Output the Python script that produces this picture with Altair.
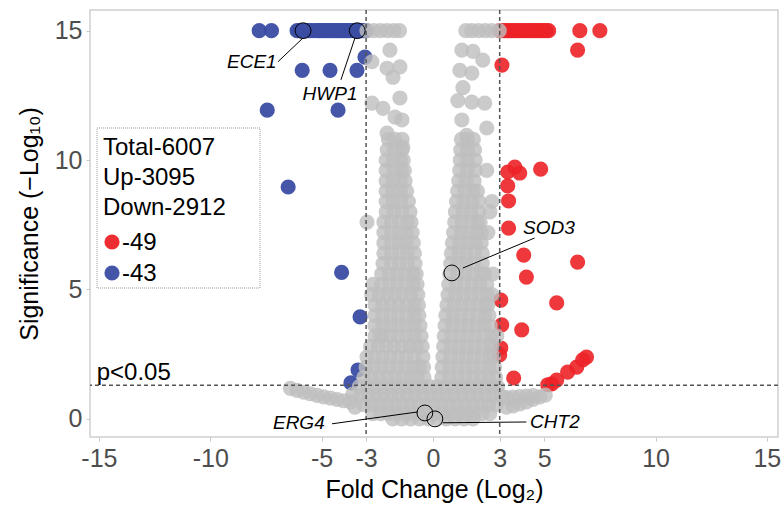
import altair as alt
import pandas as pd

# ---------------- data ----------------
# significant down-regulated genes (blue)
blue_x = [-7.8, -7.25, -6.1, -6.0, -5.83, -5.7, -5.6, -5.5, -5.35, -5.2, -5.1, -5.0,
          -4.9, -4.8, -4.7, -4.6, -4.5, -4.4, -4.3, -4.2, -4.1, -4.0, -3.9, -3.8,
          -3.7, -3.6, -3.5, -3.4, -3.3, -3.2, -3.1, -3.0,
          -3.05, -5.87, -4.62, -3.41, -7.44, -4.26, -6.5, -4.1, -3.27, -3.36, -3.68]
blue_y = [15] * 32 + [13.98, 13.47, 13.47, 13.47, 11.93, 11.93, 8.96, 5.66, 3.94, 1.89, 1.39]

# significant up-regulated genes (red)
red_x = [3.0, 3.11, 3.22, 3.33, 3.44, 3.55, 3.66, 3.77, 3.88, 3.99, 4.1, 4.21, 4.32,
         4.43, 4.54, 4.65, 4.76, 4.87, 4.98, 5.09, 5.2, 6.6, 7.5,
         3.1, 6.5, 3.68, 3.9, 3.36, 4.84, 3.36, 3.4, 3.4, 4.08, 6.5, 4.2, 3.05, 5.56,
         3.09, 3.99, 3.05, 3.0, 3.63, 6.9, 6.73, 6.46, 6.05, 5.56, 5.34, 5.16]
red_y = [15] * 23 + [13.67, 14.25, 9.73, 9.5, 9.54, 9.65, 9.0, 8.42, 7.37, 6.33, 6.06,
                     5.48, 4.59, 4.48, 3.63, 3.44, 2.74, 2.47, 1.58, 2.39, 2.28, 2.0,
                     1.81, 1.5, 1.35, 1.32]

# non-significant genes (grey), traced row by row from the cloud: (y, [x ...])
grey_rows = [
    (15.0, [-2.96, -2.65, -2.35, -2.05, -1.75, -1.5, 1.48, 1.75, 2.05, 2.35, 2.65, 2.98]),
    (10.8, [-2.0, -1.7, -1.38, 1.28, 1.55, 1.82]),
    (10.4, [-2.05, -1.72, -1.38, 1.25, 1.55, 1.87]),
    (10.0, [-2.1, -1.78, -1.45, -1.33, 1.23, 1.55, 1.9]),
    (9.6, [-2.1, -1.75, -1.42, -1.28, 1.2, 1.55, 1.9, 2.42]),
    (9.2, [-2.1, -1.78, -1.46, -1.25, 1.16, 1.5, 1.85]),
    (8.8, [-2.1, -1.78, -1.46, -1.18, 1.11, 1.45, 1.8, 2.0]),
    (8.4, [-2.1, -1.78, -1.45, -1.1, 1.06, 1.4, 1.75, 2.07, 2.65]),
    (8.0, [-2.1, -1.75, -1.4, -1.03, 1.01, 1.35, 1.7, 2.05, 2.56]),
    (7.6, [-2.96, -2.2, -1.85, -1.5, -1.15, -0.98, 0.98, 1.32, 1.66, 2.0, 2.12]),
    (7.2, [-2.2, -1.85, -1.5, -1.2, -0.93, 0.93, 1.27, 1.6, 1.95, 2.17, 2.47]),
    (6.8, [-2.2, -1.85, -1.5, -1.2, -0.88, 0.88, 1.22, 1.55, 1.9, 2.17]),
    (6.4, [-2.2, -1.85, -1.5, -1.15, -0.83, 0.83, 1.17, 1.5, 1.85, 2.22]),
    (6.0, [-2.24, -1.85, -1.5, -1.15, -0.8, 0.8, 1.14, 1.48, 1.82, 2.22]),
    (5.6, [-2.3, -1.95, -1.6, -1.25, -0.9, -0.75, 0.76, 1.1, 1.45, 1.8, 2.15, 2.32, 2.69]),
    (5.2, [-2.69, -2.3, -1.95, -1.6, -1.25, -0.9, -0.71, 0.71, 1.05, 1.4, 1.75, 2.1, 2.42]),
    (4.8, [-2.75, -2.4, -2.05, -1.7, -1.35, -1.0, -0.68, 0.68, 1.02, 1.37, 1.72, 2.07, 2.42, 2.65]),
    (4.4, [-2.6, -2.25, -1.9, -1.55, -1.2, -0.85, -0.65, 0.63, 0.97, 1.32, 1.67, 2.02, 2.37, 2.47]),
    (4.0, [-2.6, -2.25, -1.9, -1.55, -1.2, -0.85, -0.63, 0.58, 0.92, 1.27, 1.62, 1.97, 2.32, 2.52]),
    (3.6, [-2.6, -2.25, -1.9, -1.55, -1.2, -0.85, -0.58, 0.55, 0.9, 1.25, 1.6, 1.95, 2.3, 2.57]),
    (3.2, [-2.37, -2.6, -2.25, -1.9, -1.55, -1.2, -0.85, -0.53, 0.51, 0.86, 1.21, 1.56, 1.91, 2.26, 2.62, 2.87]),
    (2.8, [-2.8, -2.45, -2.1, -1.75, -1.4, -1.05, -0.75, -0.48, 0.48, 0.82, 1.17, 1.52, 1.87, 2.22, 2.57, 2.67]),
    (2.4, [-2.96, -2.6, -2.25, -1.9, -1.55, -1.2, -0.85, -0.45, 0.45, 0.8, 1.15, 1.5, 1.85, 2.2, 2.55, 2.72]),
    (2.0, [-3.0, -2.65, -2.3, -1.95, -1.6, -1.25, -0.9, -0.6, -0.42, 0.42, 0.77, 1.12, 1.47, 1.82, 2.17, 2.52, 2.77]),
    (1.6, [-3.1, -2.75, -2.4, -2.05, -1.7, -1.35, -1.0, -0.7, -0.4, 0.4, 0.75, 1.1, 1.45, 1.8, 2.15, 2.5, 2.82]),
    (1.25, [-3.3, -2.95, -2.6, -2.25, -1.9, -1.55, -1.2, -0.85, -0.5, -0.15, 0.2, 0.55, 0.9, 1.25, 1.6, 1.95, 2.3, 2.65, 2.9]),
    (0.9, [-3.25, -2.9, -2.55, -2.2, -1.85, -1.5, -1.15, -0.8, -0.45, -0.1, 0.25, 0.6, 0.95, 1.3, 1.65, 2.0, 2.35, 2.7, 3.05]),
    (0.55, [-3.1, -2.75, -2.4, -2.05, -1.7, -1.35, -1.0, -0.65, -0.3, 0.05, 0.4, 0.75, 1.1, 1.45, 1.8, 2.15, 2.5, 2.85]),
    (0.2, [-2.7, -2.35, -2.0, -1.65, -1.3, -0.95, -0.6, -0.25, 0.1, 0.45, 0.8, 1.15, 1.5, 1.85, 2.2, 2.55]),
    (0.0, [-1.8, -1.4, -1.0, -0.6, -0.2, 0.2, 0.6, 1.0, 1.4, 1.8]),
]
# isolated grey points (upper plumes and low-significance tails)
grey_extra_x = [-2.74, -1.93, -2.06, -1.48, -1.79, -2.74, -2.24, -1.48, -1.7, -1.39, -2.06, -1.35,
                1.3, 1.8, 2.24, 1.21, 1.75, 1.35, 1.12, 1.75, 2.33, 1.3, 2.42, 1.52,
                -6.4, -6.1, -5.8, -5.5, -5.2, -4.9, -4.6, -4.3, -4.0, -3.7, -3.5, -3.6,
                3.3, 3.3, 3.6, 3.6, 3.9, 3.9, 4.2, 4.2, 4.5, 4.5, 4.8, 5.05]
grey_extra_y = [13.8, 14.25, 13.55, 13.6, 13.2, 12.2, 12.0, 12.4, 11.66, 11.55, 11.04, 10.5,
                14.25, 14.2, 13.86, 13.47, 13.36, 12.8, 12.3, 12.24, 12.2, 11.55, 11.24, 10.96,
                1.18, 1.1, 1.03, 0.97, 0.91, 0.85, 0.8, 0.75, 0.7, 0.66, 0.45, 0.95,
                0.45, 0.82, 0.5, 0.84, 0.58, 0.86, 0.66, 0.88, 0.75, 0.9, 0.85, 0.92]

# highlighted genes
gene_names = ["ECE1", "HWP1", "SOD3", "ERG4", "CHT2"]
gene_x = [-5.83, -3.4, 0.85, -0.36, 0.09]
gene_y = [15.0, 15.0, 5.64, 0.23, 0.0]
label_x = [-8.13, -4.62, 5.21, -6.02, 5.48]
label_y = [13.8, 12.56, 7.38, -0.15, -0.12]
leader_x1 = [-5.88, -3.5, 1.35, -0.67, 0.45]
leader_y1 = [14.68, 14.72, 5.83, 0.27, -0.15]
leader_x2 = [-6.96, -4.13, 4.57, -4.53, 4.2]
leader_y2 = [13.8, 13.1, 6.99, -0.19, -0.12]

fc_cut = [-3, 3]
p_cut = 1.301
x_ticks = [-15, -10, -5, -3, 0, 3, 5, 10, 15]
y_ticks = [0, 5, 10, 15]
legend_lines = ["Total-6007", "Up-3095", "Down-2912"]
legend_counts = ["-49", "-43"]

# ---------------- build tables ----------------
gx, gy = [], []
for yv, xs_row in grey_rows:
    gx += xs_row
    gy += [yv] * len(xs_row)
gx += grey_extra_x
gy += grey_extra_y

grey_df = pd.DataFrame({"x": gx, "y": gy})
red_df = pd.DataFrame({"x": red_x, "y": red_y})
blue_df = pd.DataFrame({"x": blue_x, "y": blue_y})
genes_df = pd.DataFrame({"name": gene_names, "x": gene_x, "y": gene_y,
                         "lx": label_x, "ly": label_y,
                         "x1": leader_x1, "y1": leader_y1, "x2": leader_x2, "y2": leader_y2})

FONT = "Liberation Sans"
xs = alt.Scale(domain=[-15.4, 15.5], nice=False, zero=False)
ys = alt.Scale(domain=[-0.7, 15.8], nice=False, zero=False)

x_axis = alt.Axis(values=x_ticks, title="Fold Change (Log₂)", labelFontSize=25,
                  labelExpr="'' + datum.value",
                  labelColor="#4D4D4D", tickColor="#C8C8C8", tickSize=4, labelPadding=5,
                  titleFontSize=25, titleColor="black", titleFontWeight="normal",
                  titlePadding=6, labelFont=FONT, titleFont=FONT, domain=False, grid=False)
y_axis = alt.Axis(values=y_ticks, title="Significance (−Log₁₀)", labelFontSize=25,
                  labelExpr="'' + datum.value",
                  labelColor="#4D4D4D", tickColor="#C8C8C8", tickSize=4, labelPadding=4,
                  titleFontSize=25, titleColor="black", titleFontWeight="normal",
                  titlePadding=12, labelFont=FONT, titleFont=FONT, domain=False, grid=False)


def X(field):
    return alt.X(field, scale=xs, axis=x_axis)


def Y(field):
    return alt.Y(field, scale=ys, axis=y_axis)


PT = 230


def pts(df, color, op):
    return alt.Chart(df).mark_circle(size=PT, color=color, opacity=op).encode(
        x=X("x:Q"), y=Y("y:Q"))


red_layer = pts(red_df, "#EC2227", 0.9)
blue_layer = pts(blue_df, "#3B4DA3", 0.95)
grey_layer = pts(grey_df, "#BEBEBE", 0.8)

vlines = alt.Chart(pd.DataFrame({"x": fc_cut})).mark_rule(
    color="#555555", strokeDash=[4, 3], strokeWidth=1.5).encode(x=X("x:Q"))
hline = alt.Chart(pd.DataFrame({"y": [p_cut]})).mark_rule(
    color="#555555", strokeDash=[4, 3], strokeWidth=1.5).encode(y=Y("y:Q"))

ptext = alt.Chart(pd.DataFrame({"x": [-15.1], "y": [1.52], "t": ["p<0.05"]})).mark_text(
    align="left", baseline="alphabetic", fontSize=24, font=FONT, color="black").encode(
    x=X("x:Q"), y=Y("y:Q"), text="t:N")

rings = alt.Chart(genes_df).mark_point(size=PT + 20, shape="circle", filled=False,
                                       color="black", strokeWidth=1, opacity=1).encode(
    x=X("x:Q"), y=Y("y:Q"))
leaders = alt.Chart(genes_df).mark_rule(color="black", strokeWidth=1).encode(
    x=X("x1:Q"), y=Y("y1:Q"), x2="x2:Q", y2="y2:Q")
labels = alt.Chart(genes_df).mark_text(fontSize=19, font=FONT, fontStyle="italic",
                                       color="black", align="center", baseline="middle").encode(
    x=X("lx:Q"), y=Y("ly:Q"), text="name:N")

# legend box (drawn inside the plot area, top-left)
one = pd.DataFrame({"a": [0]})
box = alt.Chart(one).mark_rect(fill="white", stroke="#9A9A9A", strokeWidth=1,
                               strokeDash=[1, 1]).encode(
    x=alt.value(7), x2=alt.value(170), y=alt.value(118), y2=alt.value(278))
legend_layers = [box]
for i, t in enumerate(legend_lines):
    legend_layers.append(alt.Chart(one).mark_text(
        align="left", baseline="alphabetic", fontSize=24, font=FONT, color="black", text=t).encode(
        x=alt.value(13), y=alt.value(145 + 30 * i)))
for i, (t, c) in enumerate(zip(legend_counts, ["#EC2227", "#3B4DA3"])):
    legend_layers.append(alt.Chart(one).mark_circle(size=PT, color=c, opacity=0.95).encode(
        x=alt.value(22), y=alt.value(232 + 31 * i)))
    legend_layers.append(alt.Chart(one).mark_text(
        align="left", baseline="alphabetic", fontSize=24, font=FONT, color="black", text=t).encode(
        x=alt.value(32), y=alt.value(240 + 31 * i)))

chart = alt.layer(red_layer, blue_layer, grey_layer, vlines, hline, ptext,
                  rings, leaders, labels, *legend_layers).properties(
    width=688, height=427,
    padding={"left": 90, "top": 10, "right": 3, "bottom": 69},
    autosize="none", background="white",
).configure_view(stroke="#CFCFCF", strokeWidth=1.5)

chart.save("out.html", embed_options={"renderer": "svg", "actions": False})
